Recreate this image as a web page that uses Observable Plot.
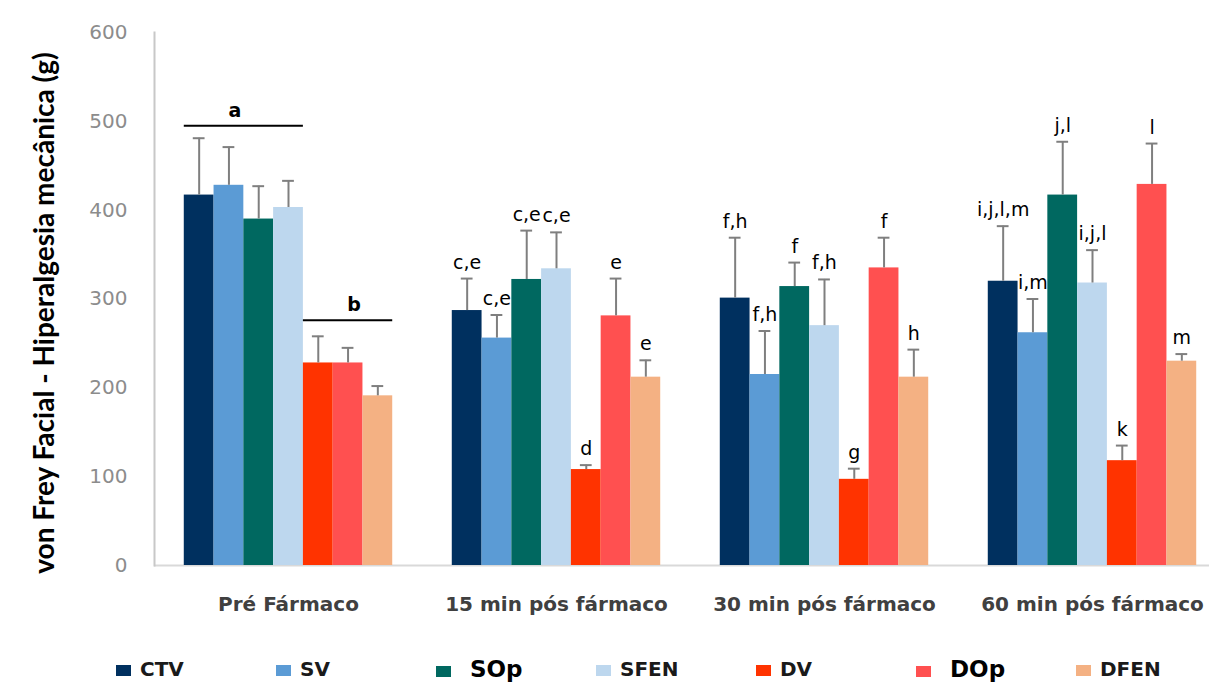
<!DOCTYPE html>
<html>
<head>
<meta charset="utf-8">
<script src="https://cdn.jsdelivr.net/npm/d3@7"></script>
<script src="https://cdn.jsdelivr.net/npm/@observablehq/plot@0.6"></script>
<style>
  body { margin: 0; background: #fff; }
  #wrap { width: 1209px; height: 686px; position: relative; overflow: hidden; background: #fff; }
  #legend { position: relative; width: 1209px; height: 46px; font-family: "DejaVu Sans", sans-serif; font-weight: bold; }
  .item { position: absolute; white-space: nowrap; }
  .sw { display: inline-block; width: 15px; height: 11px; vertical-align: baseline; }
</style>
</head>
<body>
<div id="wrap">
  <div id="chart"></div>
  <div id="legend"></div>
</div>
<script>
const groups = ["Pré Fármaco", "15 min pós fármaco", "30 min pós fármaco", "60 min pós fármaco"];
const series = ["CTV", "SV", "SOp", "SFEN", "DV", "DOp", "DFEN"];
const colors = ["#00305f", "#5b9bd5", "#006860", "#bdd7ee", "#ff3300", "#ff5050", "#f4b183"];

const meanPre = [417, 428, 390, 403, 228, 228, 191];
const mean15  = [287, 256, 322, 334, 108, 281, 212];
const mean30  = [301, 215, 314, 270, 97, 335, 212];
const mean60  = [320, 262, 417, 318, 118, 429, 230];

const errPre = [64, 43, 37, 30, 30, 17, 11];
const err15  = [36, 26, 55, 41, 5, 42, 19];
const err30  = [68, 49, 27, 52, 12, 34, 31];
const err60  = [62, 38, 60, 37, 17, 46, 8];

const letPre = ["", "", "", "", "", "", ""];
const let15  = ["c,e", "c,e", "c,e", "c,e", "d", "e", "e"];
const let30  = ["f,h", "f,h", "f", "f,h", "g", "f", "h"];
const let60  = ["i,j,l,m", "i,m", "j,l", "i,j,l", "k", "l", "m"];

const bracketGroup = ["Pré Fármaco", "Pré Fármaco"];
const bracketFrom  = ["CTV", "DV"];
const bracketTo    = ["SFEN", "DFEN"];
const bracketAt    = ["SV", "DOp"];
const bracketValue = [495, 276];
const bracketLabel = ["a", "b"];

const yTicks = [0, 100, 200, 300, 400, 500, 600];
const yLabel = "von Frey Facial - Hiperalgesia mecânica (g)";
const bigLegend = ["SOp", "DOp"];

const means = [meanPre, mean15, mean30, mean60];
const errs = [errPre, err15, err30, err60];
const lets = [letPre, let15, let30, let60];

const table = groups.flatMap((g, gi) => series.map((s, si) => ({
  group: g, series: s, mean: means[gi][si], err: errs[gi][si], letter: lets[gi][si]
})));
const brackets = bracketGroup.map((g, i) => ({
  group: g, from: bracketFrom[i], to: bracketTo[i], at: bracketAt[i], value: bracketValue[i], label: bracketLabel[i]
}));

const chart = Plot.plot({
  width: 1209,
  height: 640,
  marginTop: 32,
  marginBottom: 75,
  marginLeft: 154,
  marginRight: 0,
  style: { fontFamily: "'DejaVu Sans', sans-serif", background: "white" },
  fx: { domain: groups, range: [154, 1226], padding: 0, round: false },
  x: { domain: series, paddingInner: 0, paddingOuter: 1, round: false, axis: null },
  y: { domain: [0, 600] },
  color: { domain: series, range: colors },
  marks: [
    Plot.ruleY([0], { stroke: "#d9d9d9", strokeWidth: 2 }),
    Plot.frame({ anchor: "left", facetAnchor: "left", stroke: "#c8c8c8", strokeWidth: 2 }),
    Plot.barY(table, { fx: "group", x: "series", y: "mean", fill: "series" }),
    Plot.ruleX(table, { fx: "group", x: "series", y1: "mean", y2: d => d.mean + d.err, stroke: "#7f7f7f", strokeWidth: 2 }),
    Plot.tickY(table, { fx: "group", x: "series", y: d => d.mean + d.err, stroke: "#7f7f7f", strokeWidth: 2, insetLeft: 9, insetRight: 9 }),
    Plot.text(table.filter(d => d.letter), { fx: "group", x: "series", y: d => d.mean + d.err, text: "letter", dy: -10, lineAnchor: "bottom", fontSize: 19, fill: "#000" }),
    Plot.ruleY(brackets, { fx: "group", x1: "from", x2: "to", y: "value", stroke: "#000", strokeWidth: 2 }),
    Plot.text(brackets, { fx: "group", x: "at", y: "value", text: "label", dx: 6, dy: -9, lineAnchor: "bottom", fontSize: 19, fontWeight: "bold", fill: "#000" }),
    Plot.axisY({ ticks: yTicks, tickSize: 0, tickPadding: 27, fontSize: 20, color: "#8c8c8c", label: null }),
    Plot.axisFx({ anchor: "bottom", tickSize: 0, tickPadding: 31, fontSize: 20, fontWeight: "bold", color: "#404040", label: null }),
    Plot.text([yLabel], { frameAnchor: "left", facetAnchor: "left", textAnchor: "middle", lineAnchor: "middle", rotate: -90, dx: -109, dy: 14, fontSize: 28, fontWeight: "bold", fontFamily: "Lato", fill: "#000" })
  ]
});
document.getElementById("chart").appendChild(chart);

const legend = d3.select("#legend");
series.forEach((s, i) => {
  const big = bigLegend.includes(s);
  const item = legend.append("div").attr("class", "item")
    .style("left", (116 + i * 160) + "px")
    .style("top", big ? "18px" : "19px")
    .style("font-size", big ? "23px" : "20px")
    .style("line-height", big ? "23px" : "20px")
    .style("color", big ? "#000" : "#1a1a1a");
  item.append("span").attr("class", "sw").style("background", colors[i]).style("margin-right", big ? "19px" : "9px");
  item.append("span").text(s);
});
</script>
</body>
</html>
